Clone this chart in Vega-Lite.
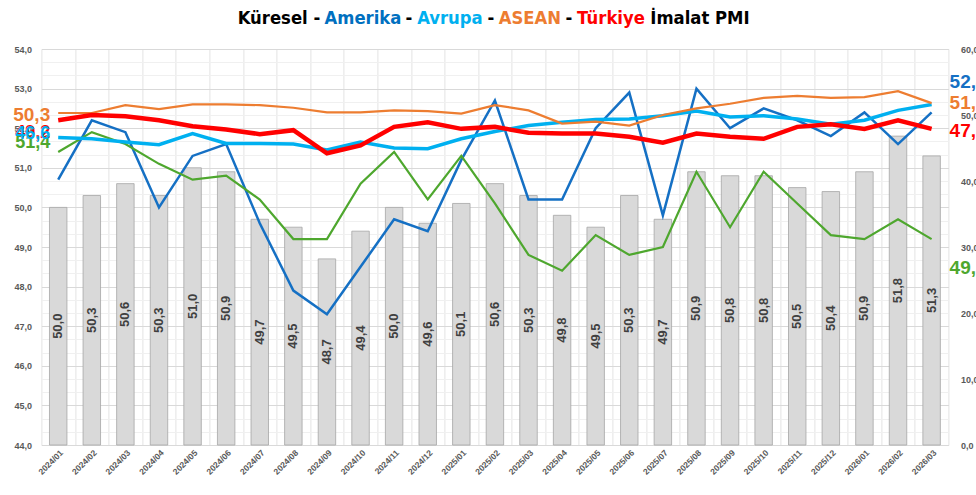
{
  "$schema": "https://vega.github.io/schema/vega-lite/v6.json",
  "background": "white",
  "padding": {"left": 13, "top": 9, "right": 0, "bottom": 0},
  "config": {
    "view": {"stroke": null},
    "font": "Liberation Sans",
    "locale": {"number": {"decimal": ",", "thousands": ".", "grouping": [3], "currency": ["", " TL"]}},
    "title": {"fontSize": 18.3, "font": "'Liberation Sans Narrow', 'DejaVu Sans Condensed', 'Roboto', sans-serif", "fontWeight": "bold", "offset": 0, "color": "#000000"}
  },
  "vconcat": [
    {
      "hconcat": [
        {"data": {"values": [{}]}, "mark": {"type": "text", "text": ""}, "width": 1, "height": 1, "title": {"text": "Küresel -", "color": "#000000"}},
        {"data": {"values": [{}]}, "mark": {"type": "text", "text": ""}, "width": 1, "height": 1, "title": {"text": "Amerika", "color": "#0070C0"}},
        {"data": {"values": [{}]}, "mark": {"type": "text", "text": ""}, "width": 1, "height": 1, "title": {"text": "-", "color": "#000000"}},
        {"data": {"values": [{}]}, "mark": {"type": "text", "text": ""}, "width": 1, "height": 1, "title": {"text": "Avrupa", "color": "#00B0F0"}},
        {"data": {"values": [{}]}, "mark": {"type": "text", "text": ""}, "width": 1, "height": 1, "title": {"text": "-", "color": "#000000"}},
        {"data": {"values": [{}]}, "mark": {"type": "text", "text": ""}, "width": 1, "height": 1, "title": {"text": "ASEAN", "color": "#ED7D31"}},
        {"data": {"values": [{}]}, "mark": {"type": "text", "text": ""}, "width": 1, "height": 1, "title": {"text": "-", "color": "#000000"}},
        {"data": {"values": [{}]}, "mark": {"type": "text", "text": ""}, "width": 1, "height": 1, "title": {"text": "Türkiye", "color": "#FF0000"}},
        {"data": {"values": [{}]}, "mark": {"type": "text", "text": ""}, "width": 1, "height": 1, "title": {"text": "İmalat PMI", "color": "#000000"}}
      ],
      "spacing": 4
    },
    {
      "width": 907,
      "height": 396,
      "data": {"values": [
        {"m": "2024/01", "k": 50.0, "am": 50.7, "av": 46.6, "as": 50.3, "tr": 49.2, "g": 51.4},
        {"m": "2024/02", "k": 50.3, "am": 52.2, "av": 46.4, "as": 50.3, "tr": 50.0, "g": 51.9},
        {"m": "2024/03", "k": 50.6, "am": 51.9, "av": 45.9, "as": 51.5, "tr": 49.8, "g": 51.6},
        {"m": "2024/04", "k": 50.3, "am": 50.0, "av": 45.5, "as": 50.9, "tr": 49.2, "g": 51.1},
        {"m": "2024/05", "k": 51.0, "am": 51.3, "av": 47.2, "as": 51.6, "tr": 48.3, "g": 50.7},
        {"m": "2024/06", "k": 50.9, "am": 51.6, "av": 45.7, "as": 51.6, "tr": 47.8, "g": 50.8},
        {"m": "2024/07", "k": 49.7, "am": 49.6, "av": 45.7, "as": 51.5, "tr": 47.1, "g": 50.2},
        {"m": "2024/08", "k": 49.5, "am": 47.9, "av": 45.6, "as": 51.1, "tr": 47.7, "g": 49.2},
        {"m": "2024/09", "k": 48.7, "am": 47.3, "av": 44.7, "as": 50.4, "tr": 44.2, "g": 49.2},
        {"m": "2024/10", "k": 49.4, "am": 48.5, "av": 45.9, "as": 50.4, "tr": 45.4, "g": 50.6},
        {"m": "2024/11", "k": 50.0, "am": 49.7, "av": 45.0, "as": 50.7, "tr": 48.2, "g": 51.4},
        {"m": "2024/12", "k": 49.6, "am": 49.4, "av": 44.9, "as": 50.6, "tr": 48.9, "g": 50.2},
        {"m": "2025/01", "k": 50.1, "am": 51.2, "av": 46.4, "as": 50.2, "tr": 47.9, "g": 51.3},
        {"m": "2025/02", "k": 50.6, "am": 52.7, "av": 47.5, "as": 51.5, "tr": 48.2, "g": 50.1},
        {"m": "2025/03", "k": 50.3, "am": 50.2, "av": 48.4, "as": 50.7, "tr": 47.3, "g": 48.8},
        {"m": "2025/04", "k": 49.8, "am": 50.2, "av": 48.9, "as": 48.7, "tr": 47.2, "g": 48.4},
        {"m": "2025/05", "k": 49.5, "am": 52.0, "av": 49.3, "as": 49.0, "tr": 47.2, "g": 49.3},
        {"m": "2025/06", "k": 50.3, "am": 52.9, "av": 49.4, "as": 48.4, "tr": 46.7, "g": 48.8},
        {"m": "2025/07", "k": 49.7, "am": 49.8, "av": 49.9, "as": 50.0, "tr": 45.8, "g": 49.0},
        {"m": "2025/08", "k": 50.9, "am": 53.0, "av": 50.6, "as": 51.0, "tr": 47.2, "g": 50.9},
        {"m": "2025/09", "k": 50.8, "am": 52.0, "av": 49.7, "as": 51.7, "tr": 46.7, "g": 49.5},
        {"m": "2025/10", "k": 50.8, "am": 52.5, "av": 49.9, "as": 52.6, "tr": 46.4, "g": 50.9},
        {"m": "2025/11", "k": 50.5, "am": 52.2, "av": 49.4, "as": 52.9, "tr": 48.2, "g": 50.1},
        {"m": "2025/12", "k": 50.4, "am": 51.8, "av": 48.6, "as": 52.6, "tr": 48.6, "g": 49.3},
        {"m": "2026/01", "k": 50.9, "am": 52.4, "av": 49.2, "as": 52.7, "tr": 47.9, "g": 49.2},
        {"m": "2026/02", "k": 51.8, "am": 51.6, "av": 50.7, "as": 53.6, "tr": 49.2, "g": 49.7},
        {"m": "2026/03", "k": 51.3, "am": 52.4, "av": 51.6, "as": 51.8, "tr": 47.9, "g": 49.2}
      ]},
      "encoding": {
        "x": {
          "field": "m", "type": "ordinal", "sort": null, "title": null,
          "scale": {"type": "band", "paddingInner": 0, "paddingOuter": 0},
          "axis": {
            "labelAngle": -45, "labelAlign": "right", "labelBaseline": "top",
            "labelFontSize": 8.5, "labelColor": "#595959", "labelFontWeight": "bold",
            "labelPadding": 3, "ticks": false, "domain": false,
            "grid": true, "tickBand": "extent", "gridColor": "#e3e3e3", "gridWidth": 1
          }
        }
      },
      "layer": [
        {
          "encoding": {
            "y": {
              "type": "quantitative",
              "scale": {"domain": [0, 60], "nice": false},
              "axis": {
                "orient": "right", "title": null,
                "values": [0, 2, 4, 6, 8, 10, 12, 14, 16, 18, 20, 22, 24, 26, 28, 30, 32, 34, 36, 38, 40, 42, 44, 46, 48, 50, 52, 54, 56, 58, 60],
                "labelExpr": "datum.value % 10 == 0 ? format(datum.value, '.1f') : ''",
                "labelFontSize": 9, "labelFontWeight": "bold", "labelColor": "#595959",
                "ticks": false, "domain": false, "labelPadding": 12,
                "grid": true, "gridColor": "#f0f0f0"
              }
            }
          },
          "layer": [
            {
              "mark": {"type": "line", "color": "#00B0F0", "strokeWidth": 3.5, "opacity": 0},
              "encoding": {"y": {"field": "av"}}
            }
          ]
        },
        {
          "encoding": {
            "y": {
              "type": "quantitative",
              "scale": {"domain": [44, 54], "nice": false, "zero": false},
              "axis": {
                "orient": "left", "title": null, "values": [44, 45, 46, 47, 48, 49, 50, 51, 52, 53, 54],
                "format": ".1f", "labelFontSize": 9, "labelFontWeight": "bold", "labelColor": "#595959",
                "ticks": false, "domain": false, "labelPadding": 10,
                "grid": true, "gridColor": "#d9d9d9"
              }
            }
          },
          "layer": [
            {
              "mark": {"type": "bar", "fill": "#d9d9d9", "stroke": "#a6a6a6", "strokeWidth": 0.8, "width": {"band": 0.52}},
              "encoding": {"y": {"field": "k"}, "y2": {"datum": 44}}
            },
            {
              "transform": [{"calculate": "(datum.k + 44) / 2", "as": "mid"}],
              "mark": {"type": "text", "angle": 270, "align": "center", "baseline": "middle", "fontSize": 13, "fontWeight": "bold", "color": "#404040"},
              "encoding": {"y": {"field": "mid"}, "text": {"field": "k", "format": ".1f"}}
            },
            {
              "mark": {"type": "line", "color": "#1570C4", "strokeWidth": 2.5},
              "encoding": {"y": {"field": "am"}}
            },
            {
              "mark": {"type": "line", "color": "#4EA72E", "strokeWidth": 2.2},
              "encoding": {"y": {"field": "g"}}
            },
            {
              "transform": [{"filter": "datum.m == '2024/01'"}],
              "mark": {"type": "text", "align": "right", "baseline": "middle", "dx": -8, "dy": -9, "fontSize": 18, "fontWeight": "bold", "color": "#4EA72E"},
              "encoding": {"y": {"field": "g"}, "text": {"field": "g", "format": ".1f"}}
            },
            {
              "transform": [{"filter": "datum.m == '2026/03'"}],
              "mark": {"type": "text", "align": "left", "baseline": "middle", "dx": 18, "dy": 29, "fontSize": 19, "fontWeight": "bold", "color": "#4EA72E"},
              "encoding": {"y": {"field": "g"}, "text": {"field": "g", "format": ".1f"}}
            },
            {
              "transform": [{"filter": "datum.m == '2026/03'"}],
              "mark": {"type": "text", "align": "left", "baseline": "middle", "dx": 18, "dy": -30, "fontSize": 19, "fontWeight": "bold", "color": "#1570C4"},
              "encoding": {"y": {"field": "am"}, "text": {"field": "am", "format": ".1f"}}
            }
          ]
        },
        {
          "encoding": {
            "y": {
              "type": "quantitative",
              "scale": {"domain": [0, 60], "nice": false},
              "axis": null
            }
          },
          "layer": [
            {
              "mark": {"type": "line", "color": "#00B0F0", "strokeWidth": 3.5},
              "encoding": {"y": {"field": "av"}}
            },
            {
              "mark": {"type": "line", "color": "#ED7D31", "strokeWidth": 2.2},
              "encoding": {"y": {"field": "as"}}
            },
            {
              "mark": {"type": "line", "color": "#FF0000", "strokeWidth": 4.5},
              "encoding": {"y": {"field": "tr"}}
            },
            {
              "transform": [{"filter": "datum.m == '2024/01'"}],
              "mark": {"type": "text", "align": "right", "baseline": "middle", "dx": -8, "dy": 13, "fontSize": 18, "fontWeight": "bold", "color": "#FF0000"},
              "encoding": {"y": {"field": "tr"}, "text": {"field": "tr", "format": ".1f"}}
            },
            {
              "transform": [{"filter": "datum.m == '2024/01'"}],
              "mark": {"type": "text", "align": "right", "baseline": "middle", "dx": -8, "dy": -3, "fontSize": 18, "fontWeight": "bold", "color": "#00B0F0"},
              "encoding": {"y": {"field": "av"}, "text": {"field": "av", "format": ".1f"}}
            },
            {
              "transform": [{"filter": "datum.m == '2024/01'"}],
              "mark": {"type": "text", "align": "right", "baseline": "middle", "dx": -8, "dy": 2, "fontSize": 19, "fontWeight": "bold", "color": "#ED7D31"},
              "encoding": {"y": {"field": "as"}, "text": {"field": "as", "format": ".1f"}}
            },
            {
              "transform": [{"filter": "datum.m == '2026/03'"}],
              "mark": {"type": "text", "align": "left", "baseline": "middle", "dx": 18, "dy": 0, "fontSize": 19, "fontWeight": "bold", "color": "#ED7D31"},
              "encoding": {"y": {"field": "as"}, "text": {"field": "as", "format": ".1f"}}
            },
            {
              "transform": [{"filter": "datum.m == '2026/03'"}],
              "mark": {"type": "text", "align": "left", "baseline": "middle", "dx": 18, "dy": 2, "fontSize": 19, "fontWeight": "bold", "color": "#FF0000"},
              "encoding": {"y": {"field": "tr"}, "text": {"field": "tr", "format": ".1f"}}
            }
          ]
        }
      ],
      "resolve": {"scale": {"y": "independent"}}
    }
  ],
  "spacing": 1,
  "center": true
}
